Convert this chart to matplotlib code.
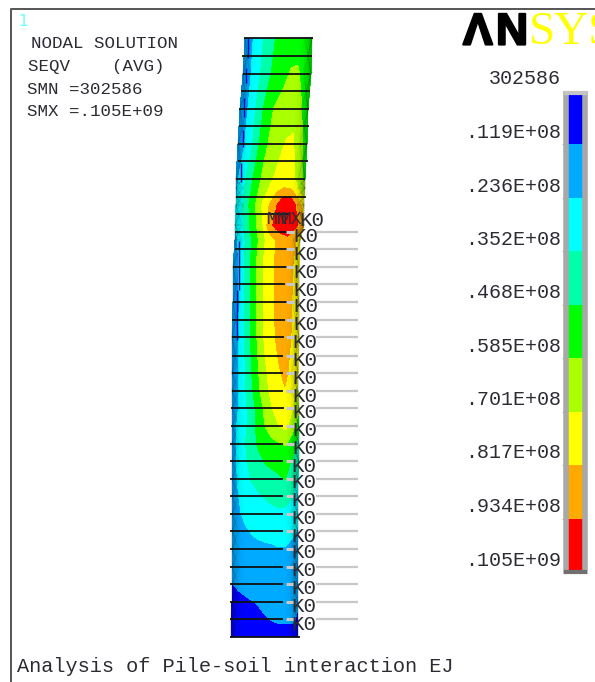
import matplotlib

matplotlib.use("Agg")
import matplotlib.patheffects as pe
import matplotlib.pyplot as plt
from matplotlib.colors import LinearSegmentedColormap
import numpy as np

MONO = "Liberation Mono"
TXT = "#2b2b33"

# contour bands (units 1e7)
levels = [0.03, 1.19, 2.36, 3.52, 4.68, 5.85, 7.01, 8.17, 9.34, 10.5]
band_colors = ["#0000ff", "#00aaff", "#00ffff", "#00ffaa", "#00ff00",
               "#aaff00", "#ffff00", "#ffaa00", "#ff0000"]
level_labels = ["302586", ".119E+08", ".236E+08", ".352E+08", ".468E+08",
                ".585E+08", ".701E+08", ".817E+08", ".934E+08", ".105E+09"]

# pile outline, picture rows
row_y = [38, 74, 109, 144, 179, 188, 197, 205, 225, 240, 267, 302, 337, 373, 391, 408,
         426, 443, 461, 479, 496, 514, 531, 549, 567, 584, 602, 620, 637]
row_left = [245, 243, 240, 238, 236, 236, 236, 236, 235, 235, 233, 233, 232, 232, 232, 232,
            232, 232, 232, 232, 232, 232, 232, 232, 232, 232, 232, 231, 231]
row_right = [312, 311, 308, 307, 305, 305, 304, 304, 304, 300, 299, 299, 299, 298, 298, 299,
             299, 299, 299, 298, 298, 298, 298, 298, 298, 298, 298, 298, 298]

# SEQV read across the pile, left to right, one line per row
seqv = [
    [1.9, 2.2, 2.9, 3.7, 4.4, 4.9, 5.1, 5.3, 5.4, 5.3, 4.9],
    [1.9, 2.2, 3.0, 3.9, 4.6, 5.1, 5.5, 5.95, 6.0, 5.5, 5.0],
    [1.9, 2.2, 3.2, 4.3, 5.2, 5.9, 6.2, 6.5, 6.8, 5.9, 5.1],
    [1.9, 2.4, 3.4, 4.6, 5.6, 6.3, 6.7, 7.1, 7.1, 6.2, 5.3],
    [2.0, 3.0, 4.2, 5.3, 6.2, 6.8, 7.3, 7.7, 7.5, 6.5, 5.5],
    [2.1, 3.2, 4.4, 5.5, 6.5, 7.2, 7.8, 8.2, 8.0, 7.0, 6.2],
    [2.2, 3.4, 4.6, 5.7, 6.8, 7.6, 8.6, 9.4, 9.4, 8.0, 7.0],
    [2.4, 3.5, 4.8, 6.0, 7.3, 8.3, 9.3, 10.0, 10.2, 9.0, 7.5],
    [2.4, 3.3, 4.6, 5.7, 6.9, 8.9, 9.8, 10.2, 10.3, 9.4, 8.2],
    [2.0, 2.9, 4.0, 5.2, 6.3, 7.4, 8.0, 8.7, 9.0, 8.6, 7.5],
    [1.7, 2.5, 3.9, 5.2, 6.5, 7.4, 8.0, 8.6, 8.9, 8.2, 7.1],
    [1.6, 2.4, 3.8, 5.1, 6.5, 7.4, 8.0, 8.6, 8.9, 8.1, 7.1],
    [1.6, 2.4, 3.7, 5.0, 6.2, 7.3, 7.9, 8.5, 8.8, 8.0, 7.0],
    [1.6, 2.4, 3.5, 4.7, 5.8, 6.8, 7.5, 8.0, 8.4, 7.9, 7.0],
    [1.6, 2.4, 3.4, 4.5, 5.6, 6.6, 7.3, 7.8, 8.1, 7.6, 6.6],
    [1.7, 2.4, 3.3, 4.2, 5.3, 6.2, 7.0, 7.5, 7.7, 7.1, 6.1],
    [1.8, 2.6, 3.3, 4.2, 5.1, 5.9, 6.5, 7.0, 7.3, 6.4, 5.0],
    [1.9, 2.6, 3.5, 4.3, 4.9, 5.3, 5.6, 5.8, 6.0, 5.2, 4.2],
    [1.9, 2.6, 3.4, 3.9, 4.4, 4.8, 5.0, 5.1, 5.0, 4.6, 3.6],
    [1.8, 2.5, 3.2, 3.6, 3.9, 4.1, 4.3, 4.5, 4.7, 4.2, 3.4],
    [1.8, 2.36, 2.8, 3.1, 3.4, 3.6, 3.8, 3.9, 3.9, 3.6, 3.0],
    [1.7, 2.2, 2.6, 2.8, 3.0, 3.1, 3.2, 3.3, 3.3, 3.0, 2.6],
    [1.6, 1.9, 2.2, 2.45, 2.6, 2.7, 2.75, 2.8, 2.75, 2.5, 2.3],
    [1.5, 1.7, 1.9, 2.0, 2.1, 2.15, 2.2, 2.3, 2.3, 2.2, 2.0],
    [1.4, 1.6, 1.75, 1.85, 1.9, 1.95, 2.0, 2.0, 2.0, 1.9, 1.8],
    [1.15, 1.4, 1.55, 1.65, 1.75, 1.8, 1.85, 1.85, 1.85, 1.75, 1.6],
    [0.7, 0.85, 1.0, 1.15, 1.25, 1.4, 1.5, 1.5, 1.5, 1.4, 1.25],
    [0.4, 0.55, 0.7, 0.85, 0.95, 1.1, 1.2, 1.3, 1.3, 1.3, 1.1],
    [0.3, 0.4, 0.5, 0.55, 0.6, 0.65, 0.7, 0.75, 0.8, 0.8, 0.8],
]
across = [0, .1, .2, .3, .4, .5, .6, .7, .8, .9, 1]
edge_shade = [.25, .04, 0, 0, 0, 0, 0, 0, 0, .05, .3]

# element lines
line_y = [38, 56, 74, 91, 109, 126, 144, 161, 179, 197, 214, 232, 249, 267, 284, 302, 320,
          337, 356, 373, 391, 408, 426, 444, 461, 479, 496, 514, 531, 549, 567, 584, 602, 619, 637]
line_x0 = [244, 242, 243, 241, 239, 239, 238, 238, 236, 236, 236, 235, 235, 233, 233, 233, 232,
           232, 232, 232, 232, 231, 231, 230, 230, 230, 230, 230, 230, 230, 230, 230, 230, 230, 230]
line_x1 = [313, 312, 310, 310, 309, 309, 307, 308, 305, 306, 290, 287, 288, 287, 285, 287, 285,
           284, 283, 283, 283, 284, 283, 283, 283, 283, 283, 283, 283, 283, 283, 283, 283, 283, 300]

# K0 restraints
k0_y = [220, 237, 255, 272, 290, 307, 325, 343, 361, 378, 396, 413, 431, 448, 466, 483, 501,
        518, 536, 553, 571, 589, 606, 624]
k0_x = [299, 293, 293, 293, 293, 293, 293, 292, 292, 292, 292, 292, 292, 292, 291, 291, 291,
        291, 291, 291, 291, 291, 291, 291]
k0_line_y = [232, 249, 267, 284, 302, 320, 337, 356, 373, 391, 408, 426, 444, 461, 479, 496, 514,
             531, 549, 567, 584, 602, 619]

# blue streaks down the left side of the pile
streak_x = [248, 246, 244, 243, 241, 239, 237]
streak_y0 = [38, 68, 98, 130, 163, 241, 290]
streak_y1 = [58, 83, 117, 147, 182, 290, 340]

fig = plt.figure(figsize=(5.95, 6.82), dpi=100)
ax = fig.add_axes([0, 0, 1, 1])
ax.set_xlim(0, 595)
ax.set_ylim(682, 0)
ax.axis("off")

# window frame
ax.plot([11, 11, 595], [682, 8.5, 8.5], color="#555555", lw=1.4, zorder=1)

# pile contours
left = np.array(row_left, dtype=float)
right = np.array(row_right, dtype=float)
u = np.array(across)
X = left[:, None] + (right - left)[:, None] * u[None, :]
Y = np.repeat(np.array(row_y, dtype=float)[:, None], len(across), axis=1)
ax.contourf(X, Y, np.array(seqv), levels=levels, colors=band_colors, zorder=2)

shade = np.repeat(np.array(edge_shade)[None, :], len(row_y), axis=0)
shade_cmap = LinearSegmentedColormap.from_list("shade", [(0, 0, 0, 0), (0, 0, 0, 1)])
ax.pcolormesh(X, Y, shade, cmap=shade_cmap, vmin=0, vmax=1, shading="gouraud", zorder=3)

ax.vlines(streak_x, streak_y0, streak_y1, color="#0000cc", lw=1.0, zorder=4)
ax.hlines(line_y, line_x0, line_x1, color="#111111", lw=1.3, zorder=5)

# K0 symbols and arrows
ax.hlines(k0_line_y, 316, 358, color="#c8c8c8", lw=1.6, zorder=5)
ax.hlines(k0_line_y, 286, 294, color="#c8c8c8", lw=2.2, zorder=5)
for x, y in zip(k0_x, k0_y):
    ax.text(x, y, "K0", family=MONO, fontsize=15, color=TXT, ha="left", va="center", zorder=6)
ax.text(267, 220, "MN", family=MONO, fontsize=13, color=TXT, ha="left", va="center", zorder=6)
ax.text(281, 220, "MX", family=MONO, fontsize=13, color=TXT, ha="left", va="center", zorder=6)

# text block
ax.text(18, 22, "1", family="DejaVu Sans", fontsize=11, color="#66ffff", ha="left", va="center")
ax.text(31, 44, "NODAL SOLUTION", family=MONO, fontsize=12.6, color=TXT, va="center")
ax.text(28, 66, "SEQV    (AVG)", family=MONO, fontsize=12.6, color=TXT, va="center")
ax.text(27, 90, "SMN =302586", family=MONO, fontsize=12.6, color=TXT, va="center")
ax.text(27, 112, "SMX =.105E+09", family=MONO, fontsize=12.6, color=TXT, va="center")
ax.text(17, 666, "Analysis of Pile-soil interaction EJ", family=MONO, fontsize=14.6,
        color=TXT, va="center")

# logo
heavy = [pe.withStroke(linewidth=1.6, foreground="black")]
ax.text(463, 44.5, "\u039b", family="Liberation Sans", fontsize=32, fontweight="bold",
        color="black", ha="left", va="baseline", path_effects=heavy)
ax.text(496, 44.5, "N", family="Liberation Sans", fontsize=32, fontweight="bold",
        color="black", ha="left", va="baseline", path_effects=heavy)
ax.text(529, 44.5, "SYS", family="Liberation Serif", fontsize=34, color="#ffff00",
        ha="left", va="baseline", clip_on=True)

# legend bar
bar_edges = np.interp(levels, [levels[0], levels[-1]], [91, 572])
ax.bar(np.full(9, 575.5), np.diff(bar_edges), bottom=bar_edges[:-1], width=16,
       color=band_colors, zorder=2)
ax.plot([566, 566], [91, 574], color="#a8a8a8", lw=4, solid_capstyle="butt", zorder=3)
ax.plot([585, 585], [91, 574], color="#a8a8a8", lw=4, solid_capstyle="butt", zorder=3)
ax.plot([564, 587], [93, 93], color="#c4c4c4", lw=3, solid_capstyle="butt", zorder=3)
ax.plot([564, 587], [572, 572], color="#707070", lw=3, solid_capstyle="butt", zorder=3)
ax.hlines(bar_edges[1:-1], 562, 564, color="#aaaaaa", lw=0.8, zorder=3)
for lab, y in zip(level_labels, bar_edges):
    ax.text(561, y - 12, lab, family=MONO, fontsize=14.4, color=TXT, ha="right", va="center")

fig.savefig("out.png", dpi=100, facecolor="white")
